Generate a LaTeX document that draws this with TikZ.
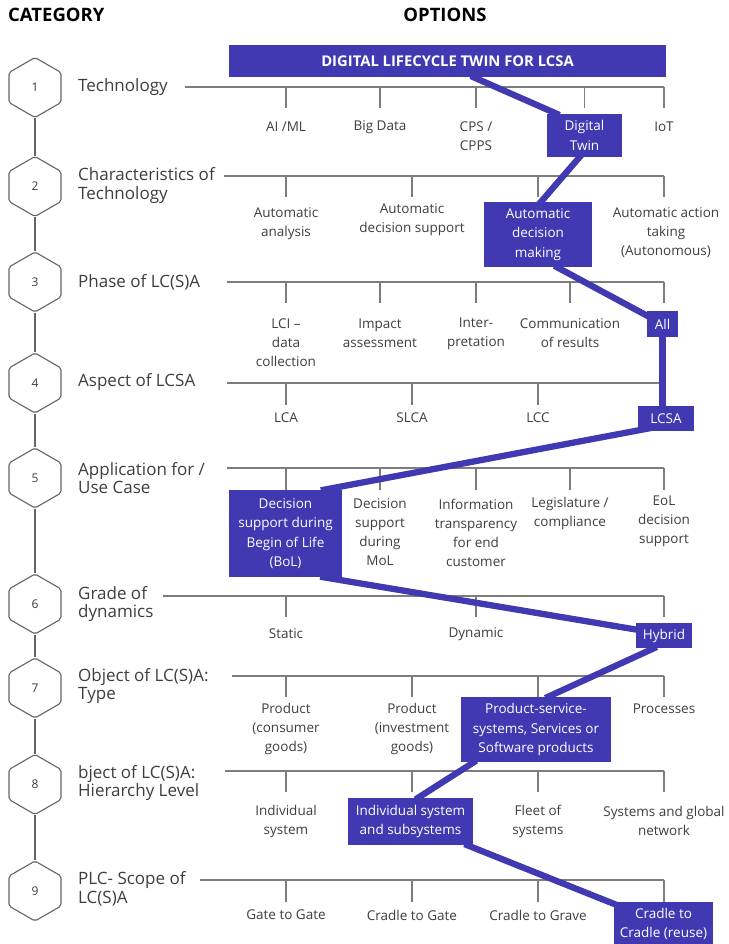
\documentclass[tikz,border=0pt]{standalone}
\usepackage{fontspec}
\setmainfont{Open Sans}
\usetikzlibrary{shapes.geometric,calc}
\pgfdeclarelayer{background}
\pgfsetlayers{background,main}
\definecolor{lcblue}{RGB}{64,57,178}
\definecolor{txt}{RGB}{62,62,62}
\definecolor{treegray}{RGB}{125,125,125}
\definecolor{hexgray}{RGB}{100,100,100}
\tikzset{
  hexnode/.style={draw=hexgray, line width=1.1pt, fill=white, regular polygon,
    regular polygon sides=6, shape border rotate=30, minimum size=60pt,
    inner sep=0pt, rounded corners=2pt, text=txt,
    font=\fontsize{12}{14}\selectfont},
  catlabel/.style={anchor=west, align=left, inner sep=0pt, text=txt,
    font=\fontsize{17}{18.5}\selectfont},
  optlabel/.style={align=center, inner sep=0pt, text=txt,
    font=\fontsize{13.5}{19}\selectfont},
  selbox/.style={fill=lcblue, text=white, align=center, inner sep=0pt,
    font=\fontsize{13.5}{19.5}\selectfont},
  heading/.style={inner sep=0pt, text=black, font=\fontsize{18.5}{22}\selectfont\bfseries},
  tree/.style={draw=treegray, line width=1.2pt},
  tick/.style={draw=treegray, line width=1.2pt},
  link/.style={draw=lcblue, line width=6.3pt, shorten <=-3pt, shorten >=-3pt},
  chain/.style={draw=hexgray, line width=1.1pt}
}
\begin{document}
\begin{tikzpicture}[x=1pt, y=-1pt]
\useasboundingbox (0,0) rectangle (728,944);

% headings
\node[heading, anchor=west] (hcat) at (8,15) {CATEGORY};
\node[heading] (hopt) at (445,15) {OPTIONS};

% title banner
\node[selbox, minimum width=437pt, minimum height=32pt,
      font=\fontsize{14.8}{17}\selectfont\bfseries] (banner) at (447.5,61)
      {DIGITAL LIFECYCLE TWIN FOR LCSA};

% category hexagons
\node[hexnode] (h1) at (35,87.5) {1};
\node[hexnode] (h2) at (35,186.5) {2};
\node[hexnode] (h3) at (35,282) {3};
\node[hexnode] (h4) at (35,383) {4};
\node[hexnode] (h5) at (35,478) {5};
\node[hexnode] (h6) at (35,604) {6};
\node[hexnode] (h7) at (35,688) {7};
\node[hexnode] (h8) at (35,784.5) {8};
\node[hexnode] (h9) at (35,891) {9};
\begin{pgfonlayer}{background}
\foreach \a/\b in {h1/h2,h2/h3,h3/h4,h4/h5,h5/h6,h6/h7,h7/h8,h8/h9}
  \draw[chain] (\a.south) -- (\b.north);
\end{pgfonlayer}

% category labels
\node[catlabel] (c1) at (78,87) {Technology};
\node[catlabel] (c2) at (78,185.5) {Characteristics of\\Technology};
\node[catlabel] (c3) at (78,282) {Phase of LC(S)A};
\node[catlabel] (c4) at (78,382) {Aspect of LCSA};
\node[catlabel] (c5) at (78,478) {Application for /\\Use Case};
\node[catlabel] (c6) at (78,604) {Grade of\\dynamics};
\node[catlabel] (c7) at (78,686) {Object of LC(S)A:\\Type};
\node[catlabel] (c8) at (78,783) {bject of LC(S)A:\\Hierarchy Level};
\node[catlabel] (c9) at (78,889) {PLC- Scope of\\LC(S)A};

% row start points of the option trees
\coordinate (r1) at (185,87);
\coordinate (r2) at (224,176);
\coordinate (r3) at (227,282);
\coordinate (r4) at (227,383);
\coordinate (r5) at (227,468);
\coordinate (r6) at (163,596);
\coordinate (r7) at (232,676);
\coordinate (r8) at (225,771);
\coordinate (r9) at (200,880);

% row 1: technology
\node[optlabel] (o11) at (286,127) {AI /ML};
\node[optlabel] (o12) at (380,127) {Big Data};
\node[optlabel] (o13) at (476,136) {CPS /\\CPPS};
\node[selbox, minimum width=75pt, minimum height=43pt] (dt) at (584.5,135.5) {Digital\\Twin};
\node[optlabel] (o15) at (664,127) {IoT};

% row 2: characteristics
\node[optlabel] (o21) at (286,224) {Automatic\\analysis};
\node[optlabel] (o22) at (412,219.5) {Automatic\\decision support};
\node[selbox, minimum width=108pt, minimum height=65pt] (adm) at (538,234.5) {Automatic\\decision\\making};
\node[optlabel] (o24) at (666,233) {Automatic action\\taking\\(Autonomous)};

% row 3: phase
\node[optlabel] (o31) at (286,343) {LCI --\\data\\collection};
\node[optlabel] (o32) at (380,333.5) {Impact\\assessment};
\node[optlabel] (o33) at (476,333.5) {Inter-\\pretation};
\node[optlabel] (o34) at (570,333.5) {Communication\\of results};
\node[selbox, minimum width=31pt, minimum height=26pt] (all) at (662.5,324) {All};

% row 4: aspect
\node[optlabel] (o41) at (286,418) {LCA};
\node[optlabel] (o42) at (412,418) {SLCA};
\node[optlabel] (o43) at (538,418) {LCC};
\node[selbox, minimum width=56pt, minimum height=25pt] (lcsa) at (666,418.5) {LCSA};

% row 5: application
\node[selbox, minimum width=113pt, minimum height=87pt] (bol) at (285.5,533.5) {Decision\\support during\\Begin of Life\\(BoL)};
\node[optlabel] (o52) at (380,532.5) {Decision\\support\\during\\MoL};
\node[optlabel] (o53) at (476,532.5) {Information\\transparency\\for end\\customer};
\node[optlabel] (o54) at (570,513) {Legislature /\\compliance};
\node[optlabel] (o55) at (664,521.5) {EoL\\decision\\support};

% row 6: dynamics
\node[optlabel] (o61) at (286,634) {Static};
\node[optlabel] (o62) at (476,634) {Dynamic};
\node[selbox, minimum width=56pt, minimum height=25pt] (hyb) at (664,635.5) {Hybrid};

% row 7: object type
\node[optlabel] (o71) at (286,729) {Product\\(consumer\\goods)};
\node[optlabel] (o72) at (412,729) {Product\\(investment\\goods)};
\node[selbox, minimum width=150pt, minimum height=65pt] (pss) at (536,729.5) {Product-service-\\systems, Services or\\Software products};
\node[optlabel] (o74) at (664,709) {Processes};

% row 8: hierarchy level
\node[optlabel] (o81) at (286,821.5) {Individual\\system};
\node[selbox, minimum width=125pt, minimum height=47pt] (ind) at (410.5,821.5) {Individual system\\and subsystems};
\node[optlabel] (o83) at (538,821.5) {Fleet of\\systems};
\node[optlabel] (o84) at (664,821) {Systems and global\\network};

% row 9: scope
\node[optlabel] (o91) at (286,915) {Gate to Gate};
\node[optlabel] (o92) at (412,915) {Cradle to Gate};
\node[optlabel] (o93) at (538,915) {Cradle to Grave};
\node[selbox, minimum width=99pt, minimum height=44pt] (c2c) at (663.5,924) {Cradle to\\Cradle (reuse)};

\begin{pgfonlayer}{background}
% option trees: a rail per row and a tick per option
\draw[tree] (r1) -- (r1 -| o15);
\foreach \o in {o11,o12,o13,dt,o15} \draw[tick] (r1 -| \o) -- ++(0,21);
\draw[tree] (r2) -- (r2 -| o15);
\foreach \o in {o21,o22,adm,o15} \draw[tick] (r2 -| \o) -- ++(0,21);
\draw[tree] (r3) -- (r3 -| o15);
\foreach \o in {o31,o32,o33,o34,o15} \draw[tick] (r3 -| \o) -- ++(0,21);
\draw[tree] (r4) -- (r4 -| o15);
\foreach \o in {o41,o42,o43,o15} \draw[tick] (r4 -| \o) -- ++(0,22);
\draw[tree] (r5) -- (r5 -| o15);
\foreach \o in {o31,o32,o33,o34,o15} \draw[tick] (r5 -| \o) -- ++(0,22);
\draw[tree] (r6) -- (r6 -| o15);
\foreach \o in {o61,o62,o15} \draw[tick] (r6 -| \o) -- ++(0,21);
\draw[tree] (r7) -- (r7 -| o15);
\foreach \o in {o71,o72,o43,o15} \draw[tick] (r7 -| \o) -- ++(0,21);
\draw[tree] (r8) -- (r8 -| o15);
\foreach \o in {o71,o72,o43,o15} \draw[tick] (r8 -| \o) -- ++(0,21);
\draw[tree] (r9) -- (r9 -| o15);
\foreach \o in {o71,o72,o43,o15} \draw[tick] (r9 -| \o) -- ++(0,22);

% selected path through the options
\draw[link] ($(banner.south)+(26,0)$) -- ($(dt.north west)+(10,0)$);
\draw[link] ($(dt.south)+(-5,0)$) -- ($(adm.north)+(3,0)$);
\draw[link] ($(adm.south)+(19,0)$) -- (all.center);
\draw[link] (all.south) -- (all.south |- lcsa.north);
\draw[link] ($(lcsa.south west)+(12,-3)$) -- ($(bol.north east)+(-18.5,0)$);
\draw[link] ($(bol.south east)+(-19,0)$) -- ($(hyb.west)+(0,-6)$);
\draw[link] ($(hyb.south)+(-10,0)$) -- ($(pss.north)+(12,0)$);
\draw[link] ($(pss.south west)+(13,0)$) -- ($(ind.north)+(7.5,0)$);
\draw[link] ($(ind.south east)+(-6,0)$) -- ($(c2c.north west)+(5,4)$);
\end{pgfonlayer}
\end{tikzpicture}
\end{document}
